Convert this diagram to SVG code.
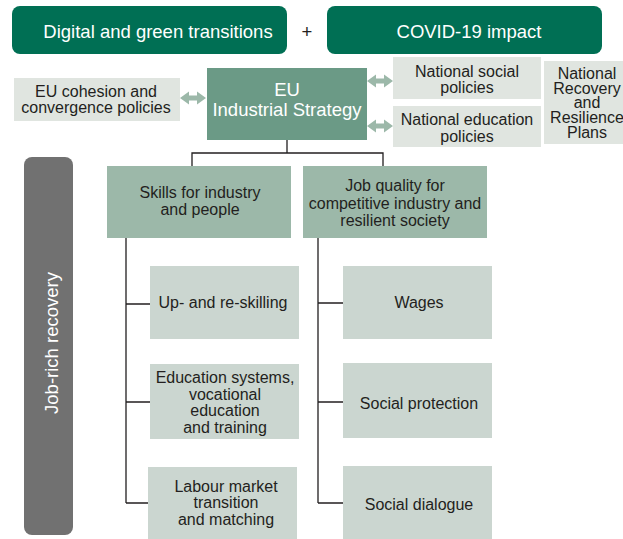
<svg xmlns="http://www.w3.org/2000/svg" xmlns:xlink="http://www.w3.org/1999/xlink" width="623" height="539" viewBox="0 0 623 539">
<style>
text { font-family: "Liberation Sans", Arial, sans-serif; fill: #231f20; text-anchor: middle; }
.t18 { font-size: 18.5px; }
.t16 { font-size: 16px; }
.w { fill: #ffffff; }
.dark { fill: #006f54; }
.eu { fill: #6b9a86; }
.mid { fill: #9cb8a9; }
.leaf { fill: #cbd6d0; }
.light { fill: #e0e5e0; }
.conn { stroke: #231f20; stroke-width: 1.3; fill: none; }
.arr { fill: #9cb8a9; }
</style>
<defs>
<path id="dbl" d="M-13,0 L-4,-6.5 L-4,-2.5 L4,-2.5 L4,-6.5 L13,0 L4,6.5 L4,2.5 L-4,2.5 L-4,6.5 Z"/>
</defs>
<rect width="623" height="539" fill="#ffffff"/>

<g id="digital">
<rect class="dark" x="12" y="6" width="275" height="48" rx="8"/>
<text class="t18 w" x="158" y="38">Digital and green transitions</text>
</g>
<g id="plus"><text class="t18" x="307" y="38">+</text></g>
<g id="covid">
<rect class="dark" x="327" y="6" width="275" height="48" rx="8"/>
<text class="t18 w" x="469" y="38">COVID-19 impact</text>
</g>

<g id="cohesion">
<rect class="light" x="14" y="78" width="166" height="43"/>
<text class="t16" x="96" y="97">EU cohesion and</text>
<text class="t16" x="96" y="113">convergence policies</text>
</g>

<g id="eu-strategy">
<rect class="eu" x="207" y="68" width="160" height="72"/>
<text class="t18 w" x="287" y="96">EU</text>
<text class="t18 w" x="287" y="116">Industrial Strategy</text>
</g>

<g id="nat-social">
<rect class="light" x="393" y="57" width="148" height="42"/>
<text class="t16" x="467" y="77">National social</text>
<text class="t16" x="467" y="93">policies</text>
</g>
<g id="nat-education">
<rect class="light" x="393" y="106" width="148" height="41"/>
<text class="t16" x="467" y="125">National education</text>
<text class="t16" x="467" y="142">policies</text>
</g>
<g id="nat-recovery">
<rect class="light" x="544" y="61" width="79" height="83"/>
<text class="t16" x="587" y="79">National</text>
<text class="t16" x="587" y="94">Recovery</text>
<text class="t16" x="587" y="108">and</text>
<text class="t16" x="587" y="123">Resilience</text>
<text class="t16" x="587" y="138">Plans</text>
</g>

<g id="sidebar">
<rect fill="#717171" x="24" y="157" width="49" height="378" rx="8"/>
<text class="t18 w" transform="translate(58,343) rotate(-90)" x="0" y="0">Job-rich recovery</text>
</g>

<g id="skills">
<rect class="mid" x="107" y="166" width="184" height="72"/>
<text class="t16" x="200" y="198">Skills for industry</text>
<text class="t16" x="200" y="215">and people</text>
</g>
<g id="job-quality">
<rect class="mid" x="303" y="166" width="184" height="72"/>
<text class="t16" x="395" y="191">Job quality for</text>
<text class="t16" x="395" y="209">competitive industry and</text>
<text class="t16" x="395" y="226">resilient society</text>
</g>

<g id="upskilling">
<rect class="leaf" x="150" y="266" width="149" height="73"/>
<text class="t16" x="223" y="308">Up- and re-skilling</text>
</g>
<g id="education">
<rect class="leaf" x="150" y="364" width="149" height="75"/>
<text class="t16" x="225" y="383">Education systems,</text>
<text class="t16" x="225" y="400">vocational</text>
<text class="t16" x="225" y="416">education</text>
<text class="t16" x="225" y="433">and training</text>
</g>
<g id="labour">
<rect class="leaf" x="148" y="467" width="149" height="72"/>
<text class="t16" x="226" y="492">Labour market</text>
<text class="t16" x="226" y="508">transition</text>
<text class="t16" x="226" y="525">and matching</text>
</g>

<g id="wages">
<rect class="leaf" x="343" y="266" width="149" height="73"/>
<text class="t16" x="419" y="308">Wages</text>
</g>
<g id="social-protection">
<rect class="leaf" x="343" y="363" width="149" height="75"/>
<text class="t16" x="419" y="409">Social protection</text>
</g>
<g id="social-dialogue">
<rect class="leaf" x="343" y="466" width="149" height="73"/>
<text class="t16" x="419" y="510">Social dialogue</text>
</g>

<g id="connectors">
<use xlink:href="#dbl" href="#dbl" class="arr" transform="translate(193,98)"/>
<use xlink:href="#dbl" href="#dbl" class="arr" transform="translate(380,81)"/>
<use xlink:href="#dbl" href="#dbl" class="arr" transform="translate(380,126)"/>
<path class="conn" d="M287,140 V153 M192,166 V153 H383 V166"/>
<path class="conn" d="M126,238 V503 M126,304 H150 M126,402 H150 M126,503 H148"/>
<path class="conn" d="M318,238 V503 M318,303 H343 M318,402 H343 M318,503 H343"/>
</g>
</svg>
